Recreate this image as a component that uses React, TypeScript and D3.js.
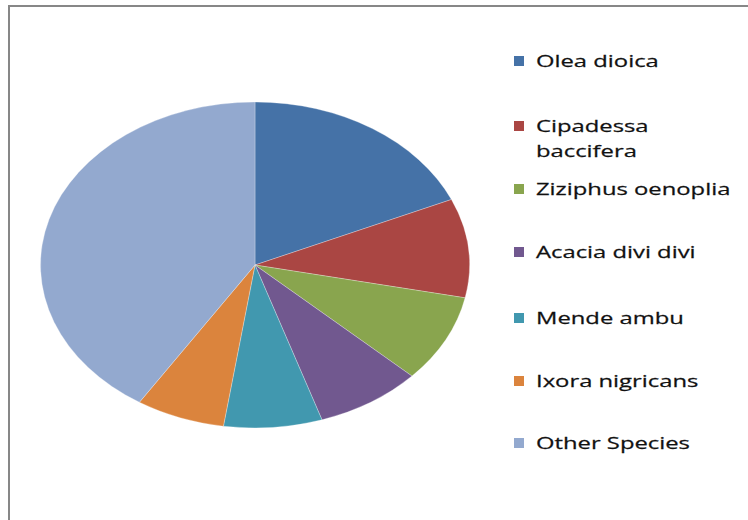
import React from "react";
import * as d3 from "d3";

const species = [
  "Olea dioica",
  "Cipadessa baccifera",
  "Ziziphus oenoplia",
  "Acacia divi divi",
  "Mende ambu",
  "Ixora nigricans",
  "Other Species",
];
const shares = [18.4, 9.8, 8.7, 8.0, 7.4, 6.7, 40.9];
const colors = ["#4572A7", "#AA4643", "#89A54E", "#71588F", "#4198AF", "#DB843D", "#93A9CF"];
const legendLines = [["Olea dioica"], ["Cipadessa", "baccifera"], ["Ziziphus oenoplia"], ["Acacia divi divi"], ["Mende ambu"], ["Ixora nigricans"], ["Other Species"]];
const legendY = [61, 126, 189, 252, 318, 381, 443];

export default function App() {
  const W = 748, H = 520;
  const cx = 255, cy = 265, rx = 214.5, ry = 163;
  const data = species.map((s, i) => ({ name: s, value: shares[i], color: colors[i] }));
  const pie = d3.pie<any>().value((d) => d.value).sort(null);
  const arcs = pie(data);
  const arc = d3.arc<any>().innerRadius(0).outerRadius(ry);
  const sx = rx / ry;
  return (
    <svg width={W} height={H} style={{ position: "absolute", left: 0, top: 0 }}>
      <rect x={0} y={0} width={W} height={H} fill="#fff" />
      <line x1={8} y1={6} x2={W} y2={6} stroke="#878787" strokeWidth={2} />
      <line x1={9} y1={6} x2={9} y2={H} stroke="#878787" strokeWidth={2} />
      <g transform={`translate(${cx},${cy}) scale(${sx},1)`}>
        {arcs.map((a, i) => (
          <path key={i} d={arc(a) as string} fill={a.data.color} stroke="#fff" strokeWidth={0.4} strokeOpacity={0.6} />
        ))}
      </g>
      {legendLines.map((lines, i) => (
        <g key={i}>
          <rect x={514} y={legendY[i] - 5} width={10} height={10} fill={colors[i]} />
          {lines.map((t, j) => (
            <g key={j} transform={`translate(536,${legendY[i] + j * 25}) scale(1.4,1)`}>
              <text x={0} y={0} dy="0.36em" fontFamily="'Open Sans', sans-serif" fontSize={17} fill="#111" stroke="#111" strokeWidth={0.25}>
                {t}
              </text>
            </g>
          ))}
        </g>
      ))}
    </svg>
  );
}
